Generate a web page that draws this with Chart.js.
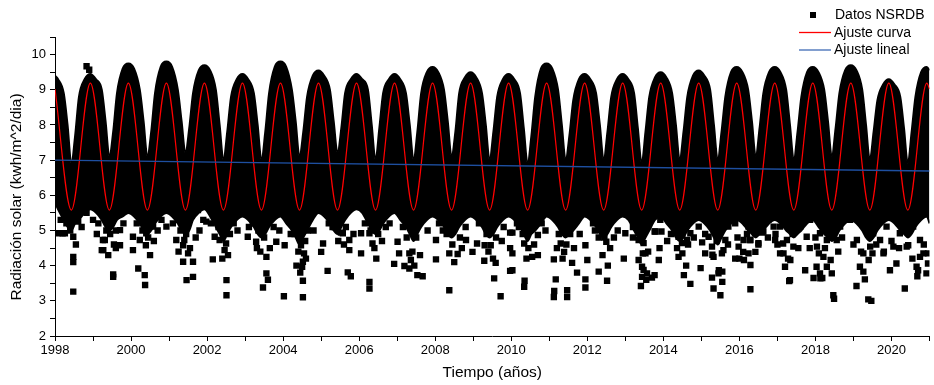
<!DOCTYPE html>
<html><head><meta charset="utf-8">
<script src="https://cdn.jsdelivr.net/npm/chart.js@4.4.0/dist/chart.umd.min.js"></script>
<style>html,body{margin:0;padding:0;background:#fff}#wrap{width:934px;height:385px;position:relative}</style>
</head><body><div id="wrap"><canvas id="c" width="934" height="385"></canvas></div>
<script>
// ---------- data ----------
const years = [1998,1999,2000,2001,2002,2003,2004,2005,2006,2007,2008,2009,2010,2011,2012,2013,2014,2015,2016,2017,2018,2019,2020];
// sampling phases within each year (fraction of the year)
const phaseOffsets = [0.08,0.23,0.33,0.43,0.53,0.63,0.78,0.93];

// upper edge of the dense cloud of daily NSRDB points (kWh/m^2/dia)
const bandUpper = [
 [9.3,8.9,8.0,6.9,7.7,8.8,9.3,9.45],
 [9.3,9.0,8.1,7.1,7.8,8.9,9.6,9.75],
 [9.6,9.0,8.1,7.1,7.8,8.9,9.65,9.8],
 [9.65,9.0,8.1,7.2,7.9,8.9,9.55,9.7],
 [9.55,9.0,8.0,7.0,7.8,8.8,9.3,9.45],
 [9.3,8.9,8.0,7.0,7.8,8.9,9.65,9.8],
 [9.65,9.0,8.1,7.1,7.8,8.8,9.4,9.55],
 [9.4,9.0,8.1,7.2,7.9,8.9,9.3,9.45],
 [9.3,9.0,8.0,7.0,7.9,8.9,9.3,9.45],
 [9.3,8.9,8.0,7.0,7.8,8.9,9.5,9.65],
 [9.5,9.0,8.1,7.1,7.8,8.9,9.35,9.5],
 [9.35,8.9,8.0,7.0,7.8,8.8,9.3,9.45],
 [9.3,8.9,7.9,6.9,7.7,8.8,9.6,9.75],
 [9.6,9.0,8.0,7.0,7.7,8.7,9.3,9.45],
 [9.3,8.9,8.0,7.0,7.8,8.8,9.3,9.45],
 [9.3,8.9,7.9,6.9,7.8,8.8,9.35,9.5],
 [9.35,8.9,8.0,7.0,7.8,8.8,9.4,9.55],
 [9.4,9.0,8.0,7.0,7.8,8.8,9.5,9.65],
 [9.5,9.0,8.1,7.1,7.9,8.9,9.5,9.65],
 [9.5,9.0,8.0,7.0,7.8,8.8,9.5,9.65],
 [9.5,9.0,8.1,7.1,7.9,8.9,9.55,9.7],
 [9.55,9.0,8.0,7.0,7.8,8.7,9.15,9.3],
 [9.15,8.8,7.9,6.9,7.8,8.8,9.5,9.65]
];
// lower edge of the dense cloud
const bandLower = [
 [5.6,5.3,5.1,5.0,5.2,5.3,5.5,5.6],
 [5.5,5.3,5.1,5.0,5.1,5.3,5.4,5.5],
 [5.4,5.2,5.0,4.9,5.0,5.2,5.4,5.5],
 [5.4,5.2,5.0,4.9,5.0,5.3,5.5,5.6],
 [5.4,5.1,4.9,4.7,4.9,5.1,5.3,5.4],
 [5.3,5.1,4.9,4.8,4.9,5.1,5.3,5.4],
 [5.2,5.0,4.8,4.6,4.8,5.0,5.3,5.5],
 [5.4,5.2,5.0,4.9,5.1,5.3,5.5,5.6],
 [5.5,5.2,5.0,4.9,5.0,5.2,5.4,5.5],
 [5.3,5.1,4.9,4.7,4.9,5.1,5.3,5.4],
 [5.3,5.1,4.9,4.8,4.9,5.1,5.3,5.4],
 [5.3,5.1,4.9,4.8,4.9,5.1,5.3,5.4],
 [5.3,5.1,4.9,4.7,4.9,5.0,5.2,5.4],
 [5.3,5.1,4.9,4.8,4.9,5.0,5.2,5.4],
 [5.3,5.1,4.9,4.8,4.9,5.1,5.3,5.4],
 [5.3,5.0,4.8,4.6,4.8,5.0,5.3,5.4],
 [5.2,5.0,4.8,4.7,4.8,5.0,5.2,5.3],
 [5.2,5.0,4.8,4.6,4.8,5.0,5.2,5.3],
 [5.2,5.0,4.9,4.8,4.9,5.0,5.2,5.3],
 [5.2,5.0,4.9,4.8,4.9,5.0,5.2,5.3],
 [5.1,4.9,4.8,4.7,4.8,5.0,5.2,5.3],
 [5.2,5.0,4.8,4.7,4.8,5.0,5.2,5.3],
 [5.2,5.0,4.9,4.8,4.9,5.1,5.3,5.4]
];
const bandStart = {t:1998.0, upper:9.4, lower:5.8};
const bandEnd   = {t:2021.0, upper:9.55, lower:5.2};

// isolated daily points outside the dense cloud [year, value]
const datosSueltos = [
 [1998.09,4.92],[1998.2,4.92],[1998.26,4.92],[1998.48,4.82],[1998.48,4.25],[1998.48,4.1],[1998.48,3.26],[1998.61,5.25],[1998.83,5.5],[1998.83,9.67],[1998.9,9.57],
 [1998.3,5.2],[1998.4,5.0],[1998.55,4.6],[1998.7,5.1],[1998.15,5.3],
 [1999.14,5.2],[1999.23,4.44],[1999.27,4.44],[1999.26,4.73],[1999.31,4.73],[1999.53,3.68],[1999.53,3.75],[1999.71,5.01],[1999.71,4.58],[1999.6,4.5],[1999.0,5.3],[1999.6,5.0],
 [1999.35,5.0],[1999.45,4.9],[1999.55,4.6],[1999.4,4.3],[1999.8,5.2],[1999.1,4.9],
 [2000.05,4.82],[2000.05,4.44],[2000.23,4.73],[2000.19,3.92],[2000.36,3.73],[2000.37,3.45],[2000.39,4.58],[2000.4,4.92],[2000.58,5.11],[2000.93,5.11],[2000.7,5.0],
 [2000.3,5.0],[2000.45,4.8],[2000.5,4.3],[2000.15,5.2],[2000.6,4.7],[2000.8,5.3],
 [2001.37,4.58],[2001.4,4.73],[2001.37,4.11],[2001.63,4.11],[2001.46,3.59],[2001.63,3.68],[2001.5,4.35],[2001.19,4.73],[2001.76,5.58],[2001.98,5.25],[2001.1,5.2],[2001.8,5.0],
 [2001.3,5.0],[2001.45,4.9],[2001.55,4.5],[2001.25,4.4],[2001.7,4.8],[2001.9,5.3],
 [2002.15,4.18],[2002.51,3.59],[2002.51,3.16],[2002.46,4.44],[2002.5,4.63],[2002.33,4.73],[2002.2,4.82],[2002.8,5.0],
 [2002.3,5.1],[2002.4,4.2],[2002.55,4.3],[2002.6,4.9],[2002.1,5.2],[2002.7,5.2],
 [2003.07,4.82],[2003.29,4.68],[2003.31,4.5],[2003.56,4.25],[2003.56,3.78],[2003.6,3.6],[2003.47,3.38],[2003.82,4.68],[2003.1,5.1],[2003.9,5.0],
 [2003.35,5.0],[2003.4,4.4],[2003.5,4.8],[2003.65,4.5],[2003.2,5.2],[2003.75,5.1],
 [2004.04,4.58],[2004.02,3.13],[2004.47,4.58],[2004.52,4.11],[2004.5,3.97],[2004.52,3.57],[2004.52,3.1],[2004.55,4.35],[2004.2,4.9],[2004.8,5.0],
 [2004.3,4.9],[2004.4,4.4],[2004.45,3.8],[2004.6,4.2],[2004.58,4.7],[2004.35,4.0],[2004.65,5.0],
 [2005.0,4.39],[2005.17,3.85],[2005.05,4.63],[2005.52,4.94],[2005.57,4.92],[2005.74,4.73],[2005.74,4.44],[2005.7,3.81],[2005.78,3.7],[2005.3,5.1],
 [2005.35,5.1],[2005.45,4.7],[2005.6,4.6],[2005.65,5.1],[2005.2,5.2],[2005.85,4.9],
 [2006.05,4.35],[2006.05,4.92],[2006.27,4.92],[2006.27,3.54],[2006.27,3.35],[2006.35,4.63],[2006.92,4.05],[2006.5,4.9],[2006.7,5.1],
 [2006.3,5.0],[2006.4,4.5],[2006.45,4.2],[2006.6,4.7],[2006.15,5.2],[2006.8,5.2],
 [2007.01,4.68],[2007.05,4.35],[2007.19,3.99],[2007.32,3.92],[2007.32,4.35],[2007.36,4.16],[2007.53,3.73],[2007.67,3.7],[2007.8,5.0],
 [2007.25,4.8],[2007.4,4.4],[2007.45,4.0],[2007.6,4.3],[2007.5,4.8],[2007.15,5.1],
 [2008.02,4.73],[2008.02,4.18],[2008.37,4.35],[2008.37,3.3],[2008.59,4.33],[2008.81,4.73],[2008.98,4.39],[2008.2,5.0],[2008.8,5.1],
 [2008.3,4.9],[2008.45,4.6],[2008.5,4.1],[2008.65,4.8],[2008.1,5.2],[2008.7,4.5],
 [2009.1,4.63],[2009.29,4.14],[2009.3,4.58],[2009.46,4.58],[2009.59,4.08],[2009.55,3.64],[2009.72,3.13],[2009.97,4.94],[2009.97,4.5],[2009.97,3.85],[2009.8,5.1],
 [2009.35,4.9],[2009.4,4.4],[2009.52,4.2],[2009.6,4.8],[2009.15,5.2],[2009.75,4.7],
 [2010.03,4.94],[2010.03,4.35],[2010.03,3.87],[2010.34,3.4],[2010.35,3.57],[2010.34,4.63],[2010.55,4.25],[2010.7,4.3],[2010.7,4.87],[2010.2,5.1],[2010.9,5.0],
 [2010.3,4.9],[2010.4,4.2],[2010.45,4.5],[2010.6,4.6],[2010.15,5.2],[2010.8,5.2],
 [2011.12,4.18],[2011.17,3.61],[2011.12,3.11],[2011.13,3.28],[2011.47,3.3],[2011.47,3.11],[2011.3,4.63],[2011.39,4.39],[2011.6,4.08],[2011.73,3.8],[2011.95,3.61],[2011.95,3.38],[2011.95,4.58],[2011.8,4.9],
 [2011.25,4.9],[2011.35,4.2],[2011.45,4.6],[2011.55,4.9],[2011.2,4.5],[2011.65,4.5],
 [2012.0,4.16],[2012.3,3.83],[2012.52,3.57],[2012.54,4.0],[2012.5,4.68],[2012.96,4.2],[2012.2,5.0],[2012.8,5.0],
 [2012.3,4.8],[2012.4,4.3],[2012.45,4.8],[2012.6,4.5],[2012.15,5.2],[2012.7,4.8],
 [2013.0,4.92],[2013.35,4.16],[2013.44,3.68],[2013.41,3.42],[2013.48,3.88],[2013.46,4.35],[2013.7,3.66],[2013.77,3.73],[2013.88,4.16],[2013.9,4.5],[2013.77,4.97],[2013.95,4.97],[2013.2,4.8],[2013.6,4.4],[2013.55,3.6],
 [2013.27,5.49],[2013.4,5.11],[2013.35,4.73],[2013.48,4.64],[2013.53,4.35],[2013.44,3.97],[2013.57,3.78],[2013.79,4.97],[2013.92,5.3],[2013.2,5.1],
 [2014.36,4.5],[2014.4,4.25],[2014.5,4.35],[2014.54,3.73],[2014.71,3.48],[2014.5,4.87],[2014.1,4.7],[2014.2,4.9],[2014.65,4.6],[2014.8,4.8],[2014.98,3.93],
 [2014.05,5.49],[2014.31,5.3],[2014.4,4.82],[2014.49,4.64],[2014.62,4.73],[2014.71,4.92],[2014.6,4.0],
 [2015.02,4.66],[2015.29,4.31],[2015.28,3.66],[2015.32,3.35],[2015.5,3.16],[2015.46,3.87],[2015.55,3.83],[2015.55,3.54],[2015.58,4.44],[2015.89,4.2],[2015.1,4.9],[2015.4,4.7],[2015.7,4.6],[2015.95,4.8],
 [2014.93,5.11],[2015.1,4.35],[2015.19,4.82],[2015.28,4.54],[2015.32,4.25],[2015.45,3.78],[2015.54,4.35],[2015.63,4.73],[2015.71,5.11],[2015.89,5.2],
 [2016.1,4.39],[2016.12,4.16],[2016.29,3.33],[2016.29,4.73],[2016.29,4.02],[2016.42,4.39],[2016.6,4.94],[2016.0,4.2],[2016.2,4.9],[2016.5,4.6],[2016.75,4.8],[2016.95,4.9],
 [2015.98,4.54],[2016.11,4.73],[2016.24,5.11],[2016.28,4.73],[2016.24,4.35],[2016.41,4.92],[2016.5,4.64],[2016.63,4.97],[2016.76,5.3],[2016.9,5.11],[2016.94,4.73],
 [2017.07,4.35],[2017.15,4.63],[2017.2,3.97],[2017.28,4.2],[2017.33,3.59],[2017.31,3.56],[2017.73,3.87],[2017.95,3.65],[2017.0,4.6],[2017.4,4.9],[2017.55,4.5],[2017.85,4.5],
 [2016.99,5.49],[2017.07,5.11],[2017.25,4.73],[2017.16,4.35],[2017.42,4.54],[2017.34,4.16],[2017.6,5.11],[2017.77,4.82],[2017.86,5.3],
 [2018.03,3.97],[2018.09,4.35],[2018.13,3.64],[2018.18,3.65],[2018.47,3.16],[2018.49,3.06],[2018.4,4.16],[2018.3,4.73],[2018.0,4.8],[2018.25,4.5],[2018.6,4.4],[2018.7,4.8],
 [2018.12,4.92],[2018.04,4.54],[2018.21,4.25],[2018.3,3.97],[2018.12,3.78],[2018.43,3.78],[2018.56,4.73],[2018.65,5.11],[2018.91,5.3],
 [2019.08,3.42],[2019.26,3.83],[2019.3,3.61],[2019.39,3.04],[2019.47,3.0],[2019.4,4.16],[2019.5,4.35],[2019.96,3.87],[2019.0,4.6],[2019.2,4.4],[2019.6,4.6],[2019.8,4.4],
 [2019.09,4.73],[2019.26,4.35],[2019.17,3.97],[2019.44,4.54],[2019.52,4.92],[2019.7,4.73],[2019.79,4.35],[2019.87,5.11],
 [2020.13,4.06],[2020.35,3.35],[2020.44,4.58],[2020.7,3.87],[2020.68,3.7],[2020.75,4.25],[2020.96,4.06],[2020.96,4.35],[2020.0,4.7],[2020.2,4.5],[2020.55,4.2],[2020.85,4.6],
 [2020.05,4.54],[2020.22,4.92],[2020.4,4.54],[2020.57,5.11],[2020.75,4.73],[2020.66,3.97],[2020.84,4.35],[2020.92,3.78]
];

// sinusoidal fit ("Ajuste curva"): troughs (~k+0.43) and peaks (~k+0.93)
const curvaInicio = [1998.0, 9.02];
const curvaFin = [2021.0, 9.02];
const curvaValles = [5.58,5.58,5.58,5.58,5.58,5.58,5.58,5.58,5.58,5.58,5.58,5.58,5.58,5.58,5.58,5.58,5.58,5.58,5.58,5.58,5.58,5.58,5.58];
const curvaPicos  = [9.19,9.19,9.19,9.19,9.19,9.19,9.19,9.19,9.19,9.19,9.19,9.19,9.19,9.19,9.19,9.19,9.19,9.19,9.19,9.19,9.19,9.19,9.19];
const curvaFaseValle = 0.43, curvaFasePico = 0.93;

// linear fit ("Ajuste lineal")
const linealT = [1998, 2021];
const linealV = [7.0, 6.69];

const legendLabels = ['Datos NSRDB','Ajuste curva','Ajuste lineal'];
const yTitle = 'Radiación solar (kwh/m^2/dia)';
const xTitle = 'Tiempo (años)';

// ---------- build datasets ----------
const upperPts = [{x:bandStart.t, y:bandStart.upper}];
const lowerPts = [{x:bandStart.t, y:bandStart.lower}];
years.forEach((yr, i) => {
  phaseOffsets.forEach((ph, j) => {
    upperPts.push({x: yr + ph, y: bandUpper[i][j]});
    lowerPts.push({x: yr + ph, y: bandLower[i][j]});
  });
});
upperPts.push({x:bandEnd.t, y:bandEnd.upper});
lowerPts.push({x:bandEnd.t, y:bandEnd.lower});

const curvaPts = [{x:curvaInicio[0], y:curvaInicio[1]}];
years.forEach((yr, i) => {
  curvaPts.push({x: yr + curvaFaseValle, y: curvaValles[i]});
  curvaPts.push({x: yr + curvaFasePico, y: curvaPicos[i]});
});
curvaPts.push({x:curvaFin[0], y:curvaFin[1]});

const linealPts = linealT.map((t, i) => ({x:t, y:linealV[i]}));
const sueltosPts = datosSueltos.map(p => ({x:p[0], y:p[1]}));

const FONT = "'Liberation Sans', Arial, sans-serif";
const RED = '#ff0000', BLUE = '#1e4fa0';

const customText = {
  id: 'customText',
  afterDraw(chart) {
    const ctx = chart.ctx;
    ctx.save();
    ctx.fillStyle = '#000';
    ctx.font = '15.5px ' + FONT;
    ctx.textAlign = 'center';
    ctx.textBaseline = 'middle';
    ctx.translate(17, 197);
    ctx.rotate(-Math.PI / 2);
    ctx.fillText(yTitle, 0, 0);
    ctx.restore();
    ctx.save();
    ctx.font = '14px ' + FONT;
    ctx.textAlign = 'left';
    ctx.textBaseline = 'middle';
    ctx.fillStyle = '#000';
    ctx.fillRect(810, 12, 6, 6);
    ctx.fillText(legendLabels[0], 835, 15.5);
    ctx.lineWidth = 1.3;
    ctx.strokeStyle = RED;
    ctx.beginPath(); ctx.moveTo(799, 32.5); ctx.lineTo(831, 32.5); ctx.stroke();
    ctx.fillText(legendLabels[1], 834, 33);
    ctx.strokeStyle = '#3f6bb5';
    ctx.beginPath(); ctx.moveTo(799, 50); ctx.lineTo(831, 50); ctx.stroke();
    ctx.fillText(legendLabels[2], 834, 50.5);
    ctx.restore();
  }
};

new Chart(document.getElementById('c'), {
  type: 'line',
  data: {
    datasets: [
      {label:'lower', data: lowerPts, borderColor:'#000', borderWidth:2, pointRadius:0, fill:false, cubicInterpolationMode:'monotone', order:5},
      {label:legendLabels[0], data: upperPts, borderColor:'#000', borderWidth:2, pointRadius:0, backgroundColor:'#000', fill:'-1', cubicInterpolationMode:'monotone', order:5},
      {label:legendLabels[0]+' sueltos', data: sueltosPts, showLine:false, pointStyle:'rect', pointRadius:4.5, pointBackgroundColor:'#000', pointBorderWidth:0, order:4},
      {label:legendLabels[1], data: curvaPts, borderColor:RED, borderWidth:1.2, pointRadius:0, fill:false, cubicInterpolationMode:'monotone', order:2},
      {label:legendLabels[2], data: linealPts, borderColor:BLUE, borderWidth:1.3, pointRadius:0, fill:false, order:1}
    ]
  },
  options: {
    responsive: false,
    animation: false,
    devicePixelRatio: 1,
    layout: {padding: {top: 37, right: 3, left: 0, bottom: 0}},
    plugins: {legend: {display:false}, tooltip: {enabled:false}},
    elements: {point: {hitRadius: 0}},
    scales: {
      x: {
        type: 'linear', min: 1998, max: 2021,
        afterFit: s => { s.height = 49; },
        ticks: {stepSize: 1, autoSkip: false, maxRotation: 0, color: '#000', padding: 2,
          font: {family: FONT, size: 13},
          callback: v => (v % 2 === 0 ? String(v) : '')},
        grid: {drawOnChartArea: false, drawTicks: true, tickLength: 5, color: '#000', lineWidth: 1},
        border: {color: '#000', width: 1},
        title: {display: true, text: xTitle, color: '#000', font: {family: FONT, size: 15.5}, padding: {top: 2, bottom: 3}}
      },
      y: {
        type: 'linear', min: 2, max: 10.5,
        afterFit: s => { s.width = 55; },
        ticks: {stepSize: 0.5, autoSkip: false, color: '#000', padding: 4,
          font: {family: FONT, size: 13},
          callback: v => (Number.isInteger(v) ? String(v) : '')},
        grid: {drawOnChartArea: false, drawTicks: true, tickLength: 5, color: '#000', lineWidth: 1},
        border: {color: '#000', width: 1}
      }
    }
  },
  plugins: [customText]
});
</script></body></html>
